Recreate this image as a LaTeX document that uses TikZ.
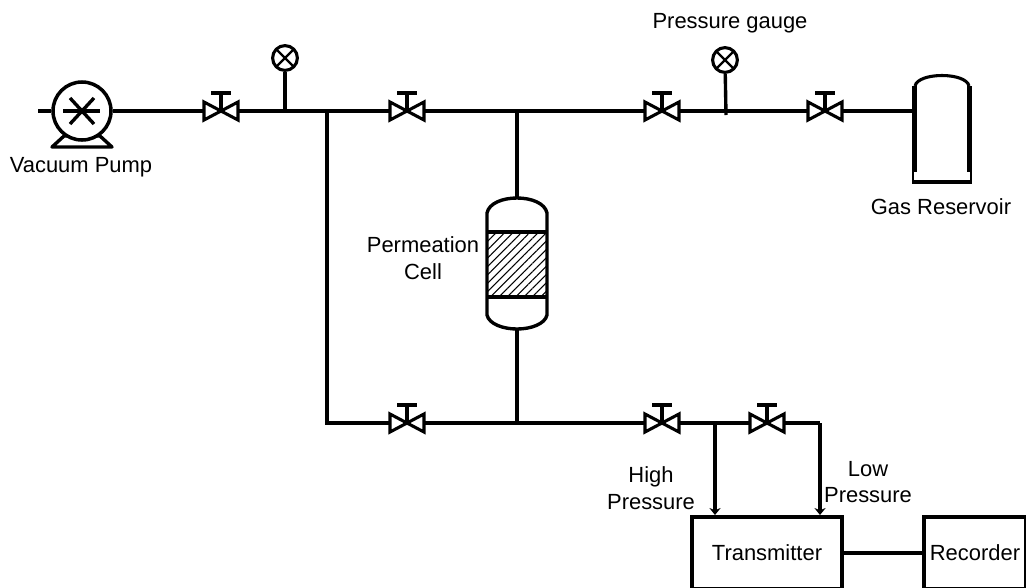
\documentclass[tikz,border=0pt]{standalone}
\usepackage{fontspec}
\setmainfont{Liberation Sans}
\usetikzlibrary{calc, positioning, arrows.meta, patterns.meta}

\tikzset{
  pipe/.style={line width=2.4pt},
  feed/.style={line width=2.4pt, -{Stealth[length=5pt, width=8pt]}},
  label/.style={align=center, inner sep=0pt, font=\fontsize{15.6}{19}\selectfont},
  gauge/.style={circle, draw, fill=white, line width=2.2pt, minimum size=.62cm, inner sep=0pt,
    path picture={
      \draw[line width=1.7pt] (path picture bounding box.north west) -- (path picture bounding box.south east);
      \draw[line width=1.7pt] (path picture bounding box.north east) -- (path picture bounding box.south west);
    }},
  block/.style={rectangle, draw, line width=2.8pt, inner sep=0pt, font=\fontsize{15.6}{19}\selectfont},
  valve/.pic={
    \draw[line width=2.2pt, fill=white, line join=miter] (-17,-9) -- (17,9) -- (17,-9) -- (-17,9) -- cycle;
    \draw[line width=2.2pt] (0,0) -- (0,-18);
    \draw[line width=2.6pt] (-10,-18) -- (10,-18);
  }
}

\begin{document}
\begin{tikzpicture}[x=.025cm, y=-.025cm]
  \useasboundingbox (0,0) rectangle (1026,587);
  \clip (0,0) rectangle (1026,587);

  % line coordinates
  \coordinate (lead) at (38,111);
  \coordinate (vpump) at (221,111);
  \coordinate (tapa) at (285,111);
  \coordinate (jtop) at (327,111);
  \coordinate (vtop) at (407,111);
  \coordinate (jcell) at (517,111);
  \coordinate (vfeed) at (662,111);
  \coordinate (tapb) at (726,115);
  \coordinate (vres) at (825,111);
  \coordinate (resin) at (914,111);
  \coordinate (jbot) at (327,423);
  \coordinate (vbot) at (407,423);
  \coordinate (jperm) at (517,423);
  \coordinate (vhigh) at (662,423);
  \coordinate (taphigh) at (715,423);
  \coordinate (vlow) at (767,423);
  \coordinate (taplow) at (820,423);
  \coordinate (celltop) at (517,198);
  \coordinate (cellbot) at (517,329);

  % vacuum pump
  \draw[line width=2.4pt, line join=round] (52,147) -- (112,147) -- (100,136) -- (64,136) -- cycle;
  \node[circle, draw, fill=white, line width=2.5pt, minimum size=1.45cm, inner sep=0pt] (pump) at (82,111) {};
  \draw[pipe] ([shift={(-19,0)}]pump.center) -- ([shift={(18,0)}]pump.center);
  \draw[pipe] ([shift={(-12,-13)}]pump.center) -- ([shift={(12,13)}]pump.center);
  \draw[pipe] ([shift={(-12,13)}]pump.center) -- ([shift={(12,-13)}]pump.center);
  \node[label] (pumplabel) at (81,167) {Vacuum Pump};

  % gauges
  \node[gauge] (gaugea) at (285,58) {};
  \node[gauge] (gaugeb) at (725,60) {};
  \node[label] (gaugelabel) at (730,23) {Pressure gauge};
  \draw[line width=2.4pt] (gaugea) -- (tapa);
  \draw[line width=2.4pt] (gaugeb) -- (tapb);

  % transmitter and recorder
  \node[block, minimum width=3.75cm, minimum height=1.8cm] (transmitter) at (767,553) {Transmitter};
  \node[block, minimum width=2.55cm, minimum height=1.8cm] (recorder) at (975,553) {Recorder};
  \draw[pipe] (transmitter) -- (recorder);

  % pipes
  \draw[pipe] (lead) -- (pump);
  \draw[pipe] (pump) -- (vpump) -- (tapa) -- (jtop) -- (vtop) -- (jcell) -- (vfeed) -- (vres) -- (resin);
  \draw[pipe] (jtop) -- (jbot) -- (vbot) -- (jperm) -- (vhigh) -- (taphigh) -- (vlow) -- (taplow);
  \draw[pipe] (jcell) -- (celltop);
  \draw[pipe] (cellbot) -- (jperm);
  \draw[feed] (taphigh) -- (taphigh |- transmitter.north);
  \draw[feed] (taplow) -- (taplow |- transmitter.north);
  \node[label] (highlabel) at (651,488) {High\\Pressure};
  \node[label] (lowlabel) at (868,482) {Low\\Pressure};

  % valves
  \foreach \v in {vpump, vtop, vfeed, vres, vbot, vhigh, vlow} {
    \pic at (\v) {valve};
  }

  % permeation cell
  \fill[pattern={Lines[angle=45, distance=4.2pt, line width=.75pt]}] (487,232) rectangle (547,297);
  \draw[pipe] (487,232) -- (547,232);
  \draw[pipe] (487,297) -- (547,297);
  \draw[pipe] (487,213) .. controls (489,203) and (503,198) .. (celltop) .. controls (531,198) and (545,203) .. (547,213)
    -- (547,315) .. controls (545,324) and (531,329) .. (cellbot) .. controls (503,329) and (489,324) .. (487,315) -- cycle;
  \node[label] (celllabel) at (423,258) {Permeation\\Cell};

  % gas reservoir
  \draw[line width=2.2pt] (915,86) .. controls (918,72) and (966,72) .. (969,86);
  \draw[line width=3.6pt] (914.5,86) -- (914.5,172);
  \draw[line width=3.6pt] (969.5,86) -- (969.5,172);
  \draw[line width=1.6pt, line join=round] (913,172) -- (913,182) -- (971,182) -- (971,172);
  \draw[line width=2.8pt] (912,182) -- (972,182);
  \node[label] (reslabel) at (941,207) {Gas Reservoir};
\end{tikzpicture}
\end{document}
